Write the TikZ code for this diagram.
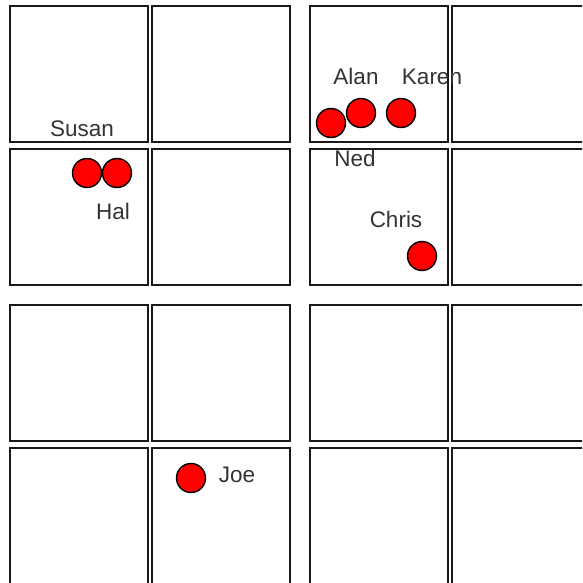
\documentclass[tikz,border=0pt]{standalone}
\usepackage{fontspec}
\setmainfont{Liberation Sans}
\begin{document}
\begin{tikzpicture}[x=1pt,y=-1pt,
  cellbox/.style={draw=black!90,line width=2.3pt},
  personc/.style={circle,draw=black,fill=red,line width=1.4pt,minimum size=29pt,inner sep=0pt},
  lbl/.style={anchor=base,text=black!80,font=\fontsize{22.5}{24}\selectfont,inner sep=0pt}]
\useasboundingbox (0,0) rectangle (582,583);
\begin{scope}
\clip (0,0) rectangle (582,583);
\foreach \x in {10,152,310,452}{
  \foreach \y in {6,149,305,448}{
    \draw[cellbox] (\x,\y) rectangle ++(138,136);
  }
}
\end{scope}
\node[personc] (susanc) at (87,173) {};
\node[personc] (halc) at (117,173) {};
\node[personc] (nedc) at (331,123) {};
\node[personc] (alanc) at (361,113) {};
\node[personc] (karenc) at (401,113) {};
\node[personc] (chrisc) at (422,256) {};
\node[personc] (joec) at (191,478) {};
\node[lbl] (susan) at (82,136) {Susan};
\node[lbl] (hal) at (113,219) {Hal};
\node[lbl] (alan) at (356,85) {Alan};
\node[lbl] (karen) at (432,85) {Karen};
\node[lbl] (ned) at (355,166) {Ned};
\node[lbl] (chris) at (396,227) {Chris};
\node[lbl] (joe) at (237,482) {Joe};
\end{tikzpicture}
\end{document}
